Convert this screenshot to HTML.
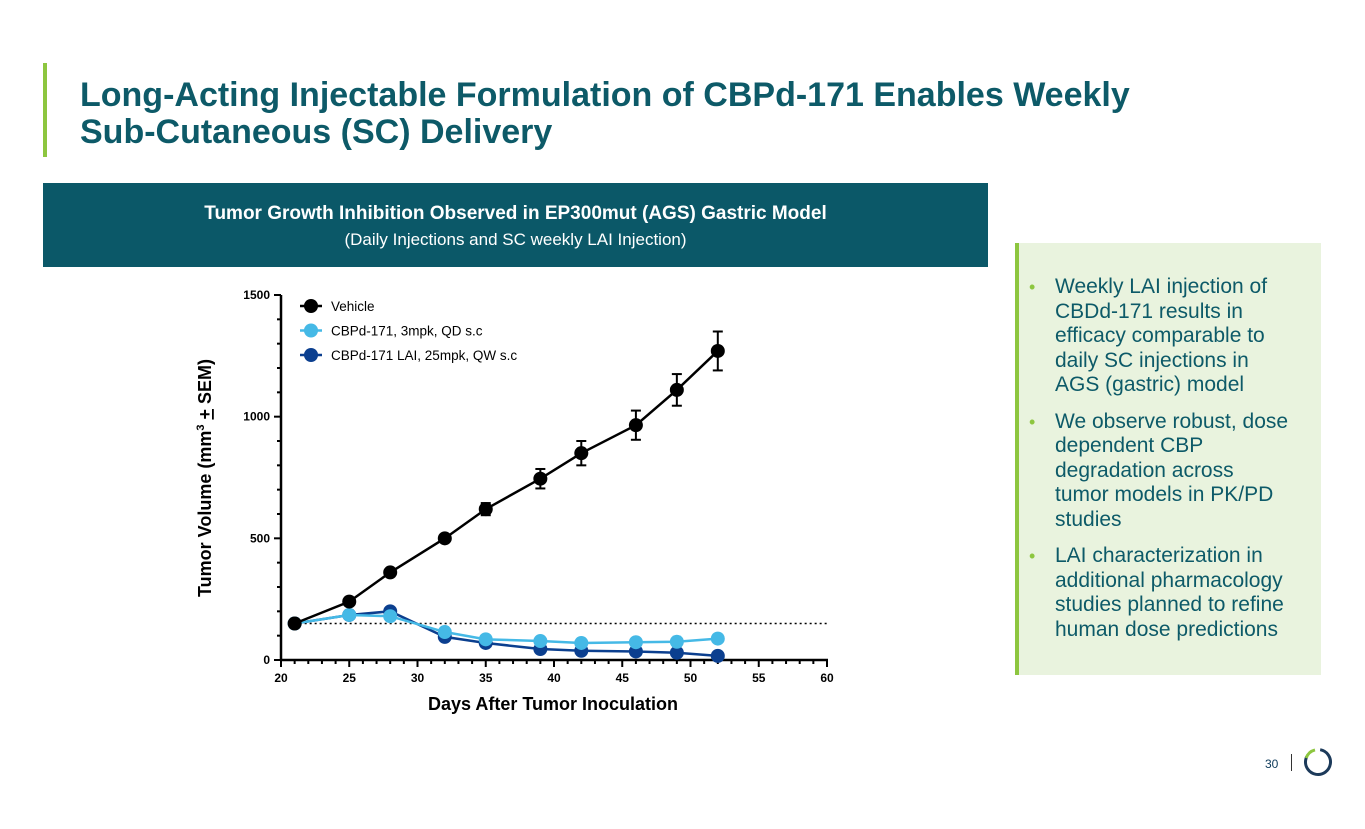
<!DOCTYPE html>
<html><head><meta charset="utf-8"><style>
body{margin:0;width:1365px;height:829px;background:#fff;position:relative;overflow:hidden;font-family:"Liberation Sans",Arial,sans-serif}
.abs{position:absolute}
</style></head><body>
<div class="abs" style="left:43px;top:63px;width:4px;height:94px;background:#8dc63f"></div>
<div class="abs" style="left:80px;top:77px;font-size:34px;font-weight:bold;color:#0d5a68;line-height:37px">Long-Acting Injectable Formulation of CBPd-171 Enables Weekly<br>Sub-Cutaneous (SC) Delivery</div>
<div class="abs" style="left:43px;top:183px;width:945px;height:84px;background:#0b5868;color:#fff;text-align:center">
 <div style="margin-top:20px;font-size:19px;font-weight:bold">Tumor Growth Inhibition Observed in EP300mut (AGS) Gastric Model</div>
 <div style="margin-top:5px;font-size:17px">(Daily Injections and SC weekly LAI Injection)</div>
</div>
<div class="abs" style="left:1015px;top:243px;width:306px;height:432px;background:#e9f3de;border-left:4px solid #8dc63f;box-sizing:border-box">
 <div style="position:absolute;left:10px;top:32px;width:290px;font-size:21px;line-height:24.5px;color:#0d5a68;white-space:nowrap">
  <div style="position:relative;padding-left:26px;margin-bottom:12px"><span style="position:absolute;left:0;color:#8dc63f;font-size:18px">•</span>Weekly LAI injection of<br>CBDd-171 results in<br>efficacy comparable to<br>daily SC injections in<br>AGS (gastric) model</div>
  <div style="position:relative;padding-left:26px;margin-bottom:12px"><span style="position:absolute;left:0;color:#8dc63f;font-size:18px">•</span>We observe robust, dose<br>dependent CBP<br>degradation across<br>tumor models in PK/PD<br>studies</div>
  <div style="position:relative;padding-left:26px"><span style="position:absolute;left:0;color:#8dc63f;font-size:18px">•</span>LAI characterization in<br>additional pharmacology<br>studies planned to refine<br>human dose predictions</div>
 </div>
</div>
<div class="abs" style="left:1265px;top:757px;font-size:12px;color:#0d3a5a">30</div>
<div class="abs" style="left:1291px;top:754px;width:1px;height:17px;background:#333"></div>
<svg class="abs" style="left:1300px;top:744px" width="36" height="36">
 <circle cx="18" cy="18" r="12.5" fill="none" stroke="#1c3a5a" stroke-width="3" stroke-dasharray="62 100" transform="rotate(-80 18 18)"/>
 <path d="M6.2 14 A12.5 12.5 0 0 1 15 5.9" fill="none" stroke="#8dc63f" stroke-width="3"/>
</svg>
<svg id="chart" class="abs" style="left:0;top:0" width="1365" height="829"></svg>
<script>
const days=[21,25,28,32,35,39,42,46,49,52];
const vehicle=[150,240,360,500,620,745,850,965,1110,1270];
const vehicleErr=[8,12,12,15,25,40,50,60,65,80];
const qd3=[150,185,180,115,85,78,70,73,75,88];
const lai25=[150,185,200,95,70,45,38,35,30,17];
const xTicks=[20,25,30,35,40,45,50,55,60];
const yTicks=[0,500,1000,1500];
const baseline=150;
const NS='http://www.w3.org/2000/svg';
const svg=document.getElementById('chart');
const X=d=>281+(d-20)*(827-281)/40;
const Y=v=>660-v*(660-295)/1500;
function mk(t,a,p){const e=document.createElementNS(NS,t);for(const k in a)e.setAttribute(k,a[k]);(p||svg).appendChild(e);return e;}
let ax=mk('line',{x1:281,y1:295,x2:281,y2:661,stroke:'#000','stroke-width':2.5});


ax=mk('line',{x1:280,y1:660,x2:828,y2:660,stroke:'#000','stroke-width':2.5});


for(let d=20;d<=60;d++){const maj=d%5==0;mk('line',{x1:X(d),y1:660,x2:X(d),y2:660+(maj?7:4),stroke:'#000','stroke-width':2});}
for(let v=0;v<=1500;v+=100){const maj=v%500==0;mk('line',{x1:281,y1:Y(v),x2:281-(maj?7:4),y2:Y(v),stroke:'#000','stroke-width':2});}
xTicks.forEach(d=>{const t=mk('text',{x:X(d),y:682,'text-anchor':'middle','font-size':12,'font-weight':'bold'});t.textContent=d;

});
yTicks.forEach(v=>{const t=mk('text',{x:270,y:Y(v)+4,'text-anchor':'end','font-size':12,'font-weight':'bold'});t.textContent=v;

});
let t=mk('text',{x:553,y:710,'text-anchor':'middle','font-size':18,'font-weight':'bold'});t.textContent='Days After Tumor Inoculation';


t=mk('text',{x:0,y:0,'text-anchor':'middle','font-size':18,'font-weight':'bold',transform:'translate(211,478) rotate(-90)'});
t.innerHTML='Tumor Volume (mm<tspan font-size="11" dy="-7">3</tspan><tspan dy="7"> </tspan><tspan text-decoration="underline">+</tspan> SEM)';


let bl=mk('line',{x1:X(21),y1:Y(baseline),x2:X(60),y2:Y(baseline),stroke:'#000','stroke-width':1.5,'stroke-dasharray':'2 3'});


function series(vals,color,name,err){
 const g=mk('g',{});
 
 
 mk('polyline',{points:vals.map((v,i)=>X(days[i])+','+Y(v)).join(' '),fill:'none',stroke:color,'stroke-width':2.5},g);
 vals.forEach((v,i)=>{
  if(err){const e=err[i],x=X(days[i]);
   mk('line',{x1:x,y1:Y(v+e),x2:x,y2:Y(v-e),stroke:color,'stroke-width':2},g);
   mk('line',{x1:x-5,y1:Y(v+e),x2:x+5,y2:Y(v+e),stroke:color,'stroke-width':2},g);
   mk('line',{x1:x-5,y1:Y(v-e),x2:x+5,y2:Y(v-e),stroke:color,'stroke-width':2},g);}
  const c=mk('circle',{cx:X(days[i]),cy:Y(v),r:7,fill:color},g);
  
  
 });
}
series(lai25,'#0b3f8f','lai-25mpk-series');
series(qd3,'#45b9e6','qd-3mpk-series');
series(vehicle,'#000','vehicle-series',vehicleErr);
const legend=[['Vehicle','#000'],['CBPd-171, 3mpk, QD s.c','#45b9e6'],['CBPd-171 LAI, 25mpk, QW s.c','#0b3f8f']];
legend.forEach((l,i)=>{const y=306+i*24.5;const g=mk('g',{});
 
 
 mk('line',{x1:300,y1:y,x2:322,y2:y,stroke:l[1],'stroke-width':2.5},g);
 mk('circle',{cx:311,cy:y,r:7,fill:l[1]},g);
 const tt=mk('text',{x:331,y:y+5,'font-size':13.5},g);tt.textContent=l[0];});
</script>
</body></html>
